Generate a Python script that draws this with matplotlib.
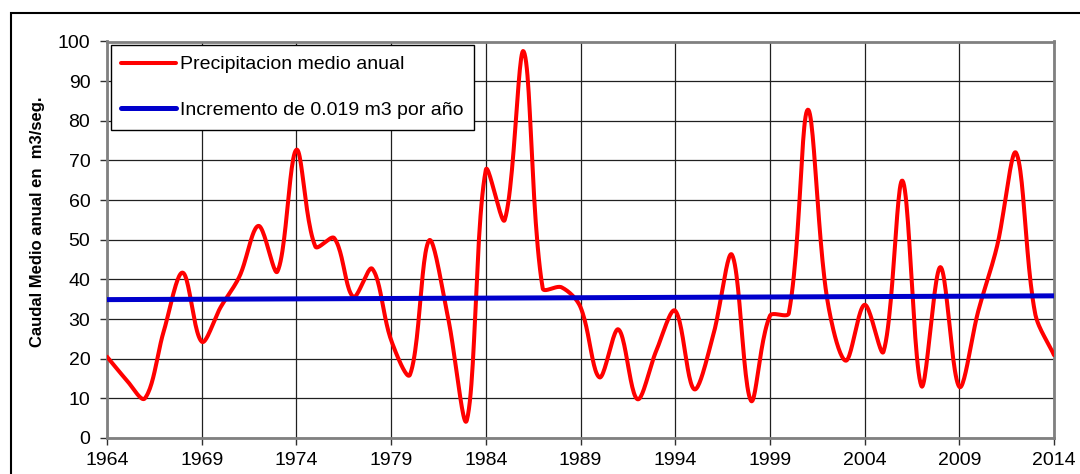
import numpy as np
import matplotlib
matplotlib.use('Agg')
import matplotlib.pyplot as plt
from matplotlib.patches import Rectangle

plt.rcParams['font.family'] = ['Liberation Sans', 'DejaVu Sans']

years = list(range(1964, 2015))
caudal = [20.5, 14.8, 10.0, 27.0, 41.7, 24.3, 33.0, 40.8, 53.5, 42.0,
          72.7, 48.3, 50.4, 35.6, 42.7, 24.7, 16.0, 49.8, 30.5, 4.5,
          67.6, 55.0, 97.5, 37.8, 38.0, 33.0, 15.3, 27.4, 9.8, 22.0,
          32.1, 12.3, 25.8, 46.2, 9.4, 30.8, 31.5, 82.8, 35.8, 19.5,
          33.6, 21.8, 64.9, 13.1, 43.1, 12.9, 32.0, 48.5, 71.9, 31.5,
          20.9]
trend_years = [1964, 2014]
trend_vals = [34.9, 35.85]
xticks = list(range(1964, 2015, 5))
yticks = list(range(0, 101, 10))


def smooth(x, y, sx=19.0, sy=3.96, n=24):
    # Excel-like smoothed line: Bezier segments, control points weighted
    # by neighbouring segment lengths measured in pixels
    p = np.column_stack([np.asarray(x, float) * sx, np.asarray(y, float) * sy])
    m = len(p)
    cout = np.zeros_like(p)
    cin = np.zeros_like(p)
    for i in range(m):
        a = p[max(i - 1, 0)]
        b = p[min(i + 1, m - 1)]
        d0 = np.hypot(*(p[i] - a))
        d1 = np.hypot(*(b - p[i]))
        tot = d0 + d1 if d0 + d1 > 0 else 1.0
        tan = b - a
        cout[i] = p[i] + tan * (d1 / tot) / 3
        cin[i] = p[i] - tan * (d0 / tot) / 3
    t = np.linspace(0, 1, n, endpoint=False)[:, None]
    out = []
    for i in range(m - 1):
        p0, c1, c2, p3 = p[i], cout[i], cin[i + 1], p[i + 1]
        out.append(((1 - t) ** 3) * p0 + 3 * ((1 - t) ** 2) * t * c1
                   + 3 * (1 - t) * t ** 2 * c2 + t ** 3 * p3)
    out.append(p[-1:])
    out = np.vstack(out)
    return out[:, 0] / sx, out[:, 1] / sy


fig = plt.figure(figsize=(10.8, 4.74), dpi=100)
ax = fig.add_axes([107 / 1080, 1 - 438 / 474, (1054 - 107) / 1080, (438 - 41.5) / 474])

cx, cy = smooth(years, caudal)
ax.plot(cx, cy, color='#ff0000', lw=2.9, label='Precipitacion medio anual',
        solid_capstyle='round', zorder=3)
ax.plot(trend_years, trend_vals, color='#0000cc', lw=3.6,
        label='Incremento de 0.019 m3 por año', solid_capstyle='round', zorder=4)

ax.set_xlim(1964, 2014)
ax.set_ylim(0, 100)
ax.set_xticks(xticks)
ax.set_yticks(yticks)
ax.grid(True, color='#202020', lw=0.9)
ax.set_axisbelow(True)
for s in ax.spines.values():
    s.set_color('#808080')
    s.set_linewidth(2)
ax.tick_params(direction='out', length=5, width=1, color='#303030',
               labelsize=14, pad=5)
ax.tick_params(axis='y', pad=7)
ax.set_ylabel('Caudal Medio anual en  m3/seg.', fontsize=12,
              fontweight='bold')
ax.yaxis.set_label_coords(-0.0655, 0.545)

leg = ax.legend(loc='upper left', bbox_to_anchor=(0.004, 0.991), fontsize=14,
                handlelength=2.8, handletextpad=0.2, labelspacing=1.45,
                borderpad=0.55, borderaxespad=0, fancybox=False, framealpha=1,
                edgecolor='black')
leg.get_frame().set_linewidth(1)

fig.patches.append(Rectangle((11 / 1080, -0.1), 1.2, 1 - 13 / 474 + 0.1,
                             transform=fig.transFigure, fill=False,
                             edgecolor='black', lw=1.5))

fig.savefig('out.png', dpi=100)
